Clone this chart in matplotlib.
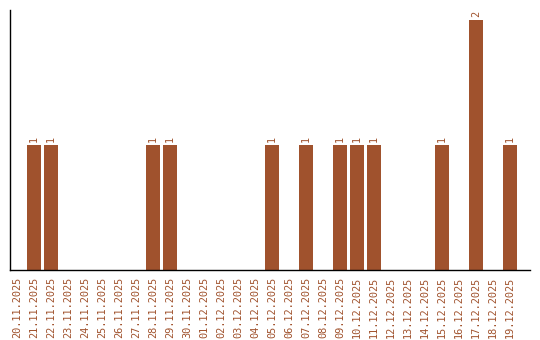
import numpy as np
import matplotlib
matplotlib.use("Agg")
import matplotlib.pyplot as plt

# data
dates = ["20.11.2025", "21.11.2025", "22.11.2025", "23.11.2025", "24.11.2025",
         "25.11.2025", "26.11.2025", "27.11.2025", "28.11.2025", "29.11.2025",
         "30.11.2025", "01.12.2025", "02.12.2025", "03.12.2025", "04.12.2025",
         "05.12.2025", "06.12.2025", "07.12.2025", "08.12.2025", "09.12.2025",
         "10.12.2025", "11.12.2025", "12.12.2025", "13.12.2025", "14.12.2025",
         "15.12.2025", "16.12.2025", "17.12.2025", "18.12.2025", "19.12.2025"]
counts = [0, 1, 1, 0, 0, 0, 0, 0, 1, 1,
          0, 0, 0, 0, 0, 1, 0, 1, 0, 1,
          1, 1, 0, 0, 0, 1, 0, 2, 0, 1]

color = "#a0522d"
fsize = 7.4

fig = plt.figure(figsize=(5.4, 3.4), dpi=100)
ax = fig.add_axes([10/540, 70/340, 520/540, 260/340])

x = np.arange(len(dates))
ax.bar(x, counts, width=0.82, color=color)

# value labels above bars
for xi, c in zip(x, counts):
    if c > 0:
        ax.text(xi, c + 0.025, str(c), rotation=90, ha="center", va="bottom",
                color=color, fontsize=fsize, family="DejaVu Sans Mono")

ax.set_xlim(-0.41, 30.18)
ax.set_ylim(0, 2.08)
ax.set_xticks(x)
ax.set_xticklabels(dates, rotation=90, color=color, fontsize=fsize,
                   family="DejaVu Sans Mono")
ax.tick_params(axis="x", length=0, pad=5)
ax.set_yticks([])
ax.spines["top"].set_visible(False)
ax.spines["right"].set_visible(False)
ax.spines["left"].set_linewidth(1.0)
ax.spines["bottom"].set_linewidth(1.0)

fig.savefig("out.png", dpi=100)
